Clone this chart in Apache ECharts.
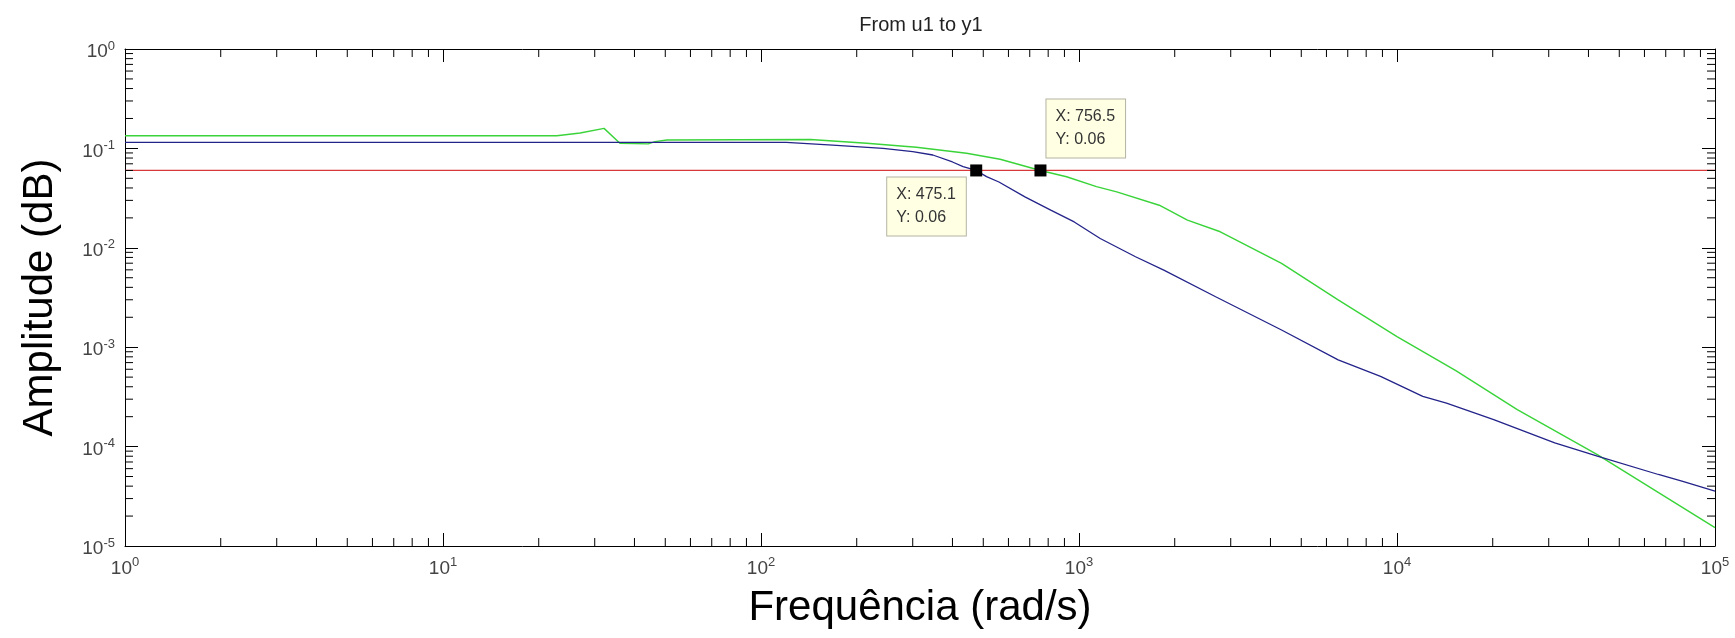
<!DOCTYPE html>
<html>
<head>
<meta charset="utf-8">
<title>From u1 to y1</title>
<script src="https://cdn.jsdelivr.net/npm/echarts@6/dist/echarts.min.js"></script>
<style>
  html, body { margin: 0; padding: 0; background: #fff; }
  #chart { width: 1735px; height: 638px; }
</style>
</head>
<body>
<div id="chart"></div>
<script>
// blue curve (frequency rad/s, amplitude)
const blueFreq = [1, 120, 168, 242, 300, 347, 400, 432, 475.1, 512, 560, 676, 815, 966, 1166, 1506, 1848, 2690, 4335, 6531, 8875, 12050, 14310, 20140, 31340, 42660, 66370, 78700, 100000];
const blueAmp = [0.115, 0.115, 0.108, 0.100, 0.093, 0.0858, 0.073, 0.0655, 0.06, 0.052, 0.0459, 0.0325, 0.0239, 0.0182, 0.0124, 0.00813, 0.00597, 0.00322, 0.00149, 0.000746, 0.000508, 0.00032, 0.000274, 0.000187, 0.000109, 0.00008, 0.0000524, 0.0000449, 0.0000356];

// green curve
const greenFreq = [1, 22.8, 27, 32.1, 36, 44.2, 46.4, 50.6, 143, 215, 308, 443, 565, 756.5, 914, 1135, 1314, 1788, 2193, 2782, 4335, 6531, 10000, 15310, 23890, 42660, 100000];
const greenAmp = [0.134, 0.134, 0.143, 0.159, 0.1125, 0.111, 0.117, 0.1215, 0.123, 0.1125, 0.1026, 0.0893, 0.0777, 0.06, 0.0519, 0.0412, 0.0365, 0.0268, 0.019, 0.0145, 0.00697, 0.00299, 0.00128, 0.00058, 0.000235, 0.000083, 0.0000153];

// red reference level
const refFreq = [1, 100000];
const refAmp = [0.06, 0.06];

// data tips
const tipPoints = [[475.1, 0.06], [756.5, 0.06]];

// axis ranges and minor ticks
const xMin = 1, xMax = 100000;
const yMin = 0.00001, yMax = 1;
const mantissas = [2, 3, 4, 5, 6, 7, 8, 9];
const xDecades = [1, 10, 100, 1000, 10000];
const yDecades = [0.00001, 0.0001, 0.001, 0.01, 0.1];

const pairs = (xs, ys) => xs.map((x, i) => [x, ys[i]]);
const minorX = [];
xDecades.forEach(d => mantissas.forEach(m => minorX.push(d * m)));
const minorY = [];
yDecades.forEach(d => mantissas.forEach(m => minorY.push(d * m)));

const FONT = '"Liberation Sans", Arial, sans-serif';
const MAJOR = 13, MINOR = 8;

const powLabel = v => '{b|10}{e|' + Math.round(Math.log10(v)) + '}';
const labelRich = {
  b: { fontSize: 19, lineHeight: 19, color: '#444', fontFamily: FONT, padding: [6, 0, 0, 0] },
  e: { fontSize: 13, lineHeight: 13, color: '#444', fontFamily: FONT, verticalAlign: 'top' }
};

const axisBase = {
  type: 'log',
  logBase: 10,
  splitNumber: 5,
  axisLine: { show: true, lineStyle: { color: '#000', width: 1 } },
  axisTick: { show: true, inside: true, length: MAJOR, lineStyle: { color: '#000', width: 1 } },
  splitLine: { show: false },
  minorTick: { show: false }
};

const chart = echarts.init(document.getElementById('chart'));

const option = {
  animation: false,
  backgroundColor: '#fff',
  title: {
    text: 'From u1 to y1',
    left: 916,
    textAlign: 'center',
    top: 10,
    textStyle: { fontSize: 20, fontWeight: 'normal', color: '#222', fontFamily: FONT }
  },
  grid: { left: 125, right: 20, top: 49, bottom: 92 },
  xAxis: [
    Object.assign({}, axisBase, {
      position: 'bottom',
      min: xMin, max: xMax,
      name: 'Frequência (rad/s)',
      nameLocation: 'middle',
      nameGap: 41,
      nameTextStyle: { fontSize: 42, color: '#000', fontFamily: FONT },
      axisLabel: { margin: 10, formatter: powLabel, rich: labelRich }
    }),
    Object.assign({}, axisBase, {
      position: 'top',
      min: xMin, max: xMax,
      axisLabel: { show: false }
    })
  ],
  yAxis: [
    Object.assign({}, axisBase, {
      position: 'left',
      min: yMin, max: yMax,
      name: 'Amplitude (dB)',
      nameLocation: 'middle',
      nameGap: 64,
      nameTextStyle: { fontSize: 42, color: '#000', fontFamily: FONT },
      axisLabel: { margin: 10, formatter: powLabel, rich: labelRich }
    }),
    Object.assign({}, axisBase, {
      position: 'right',
      min: yMin, max: yMax,
      axisLabel: { show: false }
    })
  ],
  series: [
    {
      name: 'ref',
      type: 'line',
      data: pairs(refFreq, refAmp),
      showSymbol: false,
      lineStyle: { color: '#d9383a', width: 1.2 },
      silent: true,
      z: 2
    },
    {
      name: 'green',
      type: 'line',
      data: pairs(greenFreq, greenAmp),
      showSymbol: false,
      lineStyle: { color: '#3ad43a', width: 1.4 },
      silent: true,
      z: 3
    },
    {
      name: 'blue',
      type: 'line',
      data: pairs(blueFreq, blueAmp),
      showSymbol: false,
      lineStyle: { color: '#23238a', width: 1.3 },
      silent: true,
      z: 4
    },
    {
      name: 'tips',
      type: 'scatter',
      symbol: 'rect',
      symbolSize: 12,
      itemStyle: { color: '#000', opacity: 1 },
      silent: true,
      z: 6,
      label: {
        show: true,
        formatter: p => 'X: ' + p.value[0] + '\nY: ' + p.value[1],
        fontSize: 16,
        lineHeight: 23,
        color: '#333',
        fontFamily: FONT,
        align: 'left',
        backgroundColor: '#ffffe4',
        borderColor: '#b4b4a4',
        borderWidth: 1,
        padding: [6, 10, 6, 9]
      },
      data: [
        { value: tipPoints[0], label: { position: [-83, 13], verticalAlign: 'top' } },
        { value: tipPoints[1], label: { position: [12, -7], verticalAlign: 'bottom' } }
      ]
    },
    {
      name: 'minorX',
      type: 'custom',
      silent: true,
      clip: false,
      z: 5,
      data: minorX.map(v => [v, yMin]),
      renderItem: (params, api) => {
        const x = api.coord([api.value(0), yMin])[0];
        const yb = api.coord([xMin, yMin])[1];
        const yt = api.coord([xMin, yMax])[1];
        const st = { stroke: '#000', lineWidth: 1 };
        return {
          type: 'group',
          children: [
            { type: 'line', shape: { x1: x, y1: yb, x2: x, y2: yb - MINOR }, style: st },
            { type: 'line', shape: { x1: x, y1: yt, x2: x, y2: yt + MINOR }, style: st }
          ]
        };
      }
    },
    {
      name: 'minorY',
      type: 'custom',
      silent: true,
      clip: false,
      z: 5,
      data: minorY.map(v => [xMin, v]),
      renderItem: (params, api) => {
        const y = api.coord([xMin, api.value(1)])[1];
        const xl = api.coord([xMin, yMin])[0];
        const xr = api.coord([xMax, yMin])[0];
        const st = { stroke: '#000', lineWidth: 1 };
        return {
          type: 'group',
          children: [
            { type: 'line', shape: { x1: xl, y1: y, x2: xl + MINOR, y2: y }, style: st },
            { type: 'line', shape: { x1: xr, y1: y, x2: xr - MINOR, y2: y }, style: st }
          ]
        };
      }
    }
  ]
};

chart.setOption(option);
</script>
</body>
</html>
